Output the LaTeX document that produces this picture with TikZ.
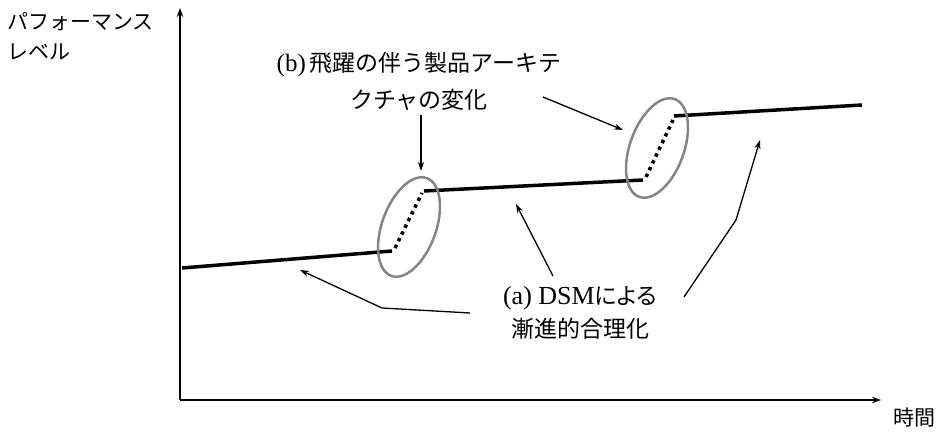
\documentclass[tikz,border=0pt]{standalone}
\usepackage{fontspec}
\newfontfamily\cjk{Noto Sans CJK JP}
\newfontfamily\cjkp[RawFeature=+palt]{Noto Sans CJK JP}
\newfontfamily\latserif{Liberation Serif}
\usetikzlibrary{arrows.meta,shapes.geometric}
\begin{document}
\begin{tikzpicture}[x=1pt,y=1pt,
  axis/.style={line width=1.8pt,-{Stealth[length=9pt,width=6.5pt]}},
  perf/.style={line width=3.5pt},
  jumpline/.style={line width=3.5pt,dash pattern=on 3.5pt off 4pt},
  ring/.style={draw=black!48,line width=2.5pt,ellipse,minimum width=54pt,minimum height=104pt,inner sep=0pt,rotate=-20},
  callout/.style={line width=1.3pt,-{Stealth[length=9pt,width=6pt]}},
  lbl/.style={inner sep=0pt,font=\fontsize{21}{30}\selectfont\cjk},
  note/.style={inner sep=0pt,align=center,font=\fontsize{23}{37}\selectfont}]
\useasboundingbox (0,0) rectangle (940,433);
% axes
\coordinate (O) at (180,33);
\coordinate (Ytip) at (180,425);
\coordinate (Xtip) at (881,33);
\draw[axis] (O) -- (Ytip);
\draw[axis] (O) -- (Xtip);
\node[lbl,anchor=north west,align=left] (ylab) at (7,421) {パフォーマンス\\レベル};
\node[lbl,anchor=center] (xlab) at (914,15) {時間};
% performance lines
\coordinate (p1) at (182,165);
\coordinate (p2) at (392,182);
\coordinate (q2) at (395,185);
\coordinate (q3) at (422,240);
\coordinate (p3) at (424,242);
\coordinate (p4) at (643,253);
\coordinate (q4) at (646,256);
\coordinate (q5) at (673,313);
\coordinate (p5) at (674,317);
\coordinate (p6) at (862,328);
\draw[perf] (p1) -- (p2);
\draw[jumpline] (q2) -- (q3);
\draw[perf] (p3) -- (p4);
\draw[jumpline] (q4) -- (q5);
\draw[perf] (p5) -- (p6);
% rings
\node[ring] (e1) at (409,206) {};
\node[ring] (e2) at (657,285) {};
% note (b)
\node[note] (nb) at (419,352) {{\latserif\fontsize{25}{37}\selectfont(b)}\,{\cjk 飛躍の伴う製品アーキテ}\\{\cjk クチャの変化}};
\coordinate (b1s) at (421,318);
\coordinate (b1e) at (421,262);
\coordinate (b2s) at (543,336);
\coordinate (b2e) at (623,303);
\draw[callout] (b1s) -- (b1e);
\draw[callout] (b2s) -- (b2e);
% note (a)
\node[note,font=\fontsize{23}{33}\selectfont] (na) at (580,120) {{\latserif\fontsize{26}{33}\selectfont(a) DSM}{\cjkp による}\\{\cjk 漸進的合理化}};
\coordinate (a1s) at (470,120);
\coordinate (a1m) at (382,125);
\coordinate (a1e) at (300,163);
\coordinate (a2s) at (553,157);
\coordinate (a2e) at (516,229);
\coordinate (a3s) at (684,136);
\coordinate (a3m) at (736,213);
\coordinate (a3e) at (760,293);
\draw[callout] (a1s) -- (a1m) -- (a1e);
\draw[callout] (a2s) -- (a2e);
\draw[callout] (a3s) -- (a3m) -- (a3e);
\end{tikzpicture}
\end{document}
